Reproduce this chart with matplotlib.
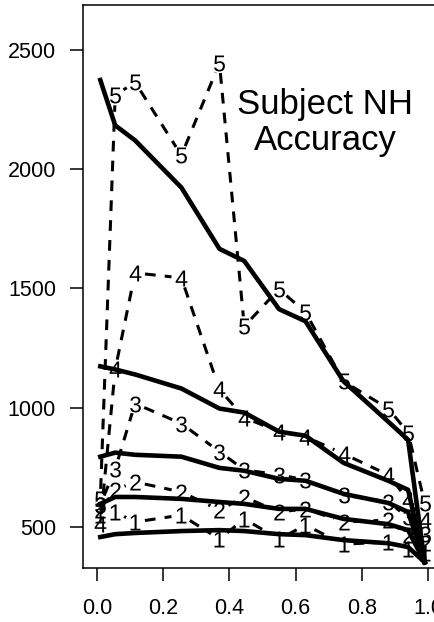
import matplotlib
matplotlib.use('Agg')
import matplotlib.pyplot as plt
import numpy as np

plt.rcParams['font.family'] = 'Liberation Sans'
plt.rcParams['mathtext.fontset'] = 'custom'
plt.rcParams['mathtext.rm'] = 'Liberation Sans'
plt.rcParams['mathtext.default'] = 'regular'

# proportion levels
x = [0.01, 0.055, 0.115, 0.255, 0.37, 0.445, 0.55, 0.63, 0.745, 0.88, 0.94, 0.99]

# observed values per condition (dashed, digit markers)
obs1 = [549, 562, 520, 549, 448, 533, 448, 507, 427, 436, 406, 390]
obs2 = [570, 655, 688, 646, 570, 625, 562, 575, 520, 528, 465, 430]
obs3 = [592, 743, 1017, 933, 815, 739, 718, 697, 634, 604, 540, 470]
obs4 = [512, 1160, 1565, 1544, 1076, 958, 899, 878, 806, 718, 613, 530]
obs5 = [617, 2310, 2365, 2058, 2445, 1341, 1497, 1400, 1110, 996, 895, 600]

# fitted values per condition (solid)
fit1 = [457, 469, 474, 482, 486, 482, 469, 465, 444, 431, 415, 351]
fit2 = [596, 625, 625, 617, 604, 596, 575, 575, 533, 511, 486, 351]
fit3 = [794, 811, 802, 794, 747, 735, 701, 693, 638, 600, 562, 351]
fit4 = [1173, 1160, 1139, 1080, 996, 979, 899, 882, 768, 693, 655, 351]
fit5 = [2374, 2184, 2121, 1923, 1666, 1615, 1413, 1362, 1110, 941, 865, 351]

observed = [obs1, obs2, obs3, obs4, obs5]
fitted = [fit1, fit2, fit3, fit4, fit5]

fig = plt.figure(figsize=(4.35, 6.22), dpi=100)
ax = fig.add_axes([0.1908, 0.0868, 0.8234, 0.9052])
ax.set_xlim(-0.0423, 1.04)
ax.set_ylim(327, 2689)

# type="b" style: segments stop short of each point
gap = 10.0
tr = ax.transData
inv = tr.inverted()
for k, ys in enumerate(observed):
    pts = tr.transform(np.column_stack([x, ys]))
    for p, q in zip(pts[:-1], pts[1:]):
        d = q - p
        L = np.hypot(*d)
        if L <= 2 * gap:
            continue
        u = d / L
        seg = inv.transform(np.array([p + u * gap, q - u * gap]))
        ax.plot(seg[:, 0], seg[:, 1], color='black', lw=2.2,
                linestyle=(0, (3.5, 3)), dash_capstyle='butt', zorder=2)
    ax.plot(x, ys, linestyle='none', marker='$%d$' % (k + 1), ms=11.5,
            mew=0, color='black', zorder=3)

for ys in fitted:
    ax.plot(x, ys, color='black', lw=3.3, solid_joinstyle='round', zorder=4)

ax.text(0.69, 2195, 'Subject NH\nAccuracy', ha='center', va='center',
        fontsize=25, linespacing=1.12)

ax.set_xticks([0.0, 0.2, 0.4, 0.6, 0.8, 1.0])
ax.set_xticklabels(['0.0', '0.2', '0.4', '0.6', '0.8', '1.0'])
ax.set_yticks([500, 1000, 1500, 2000, 2500])
ax.tick_params(axis='both', direction='out', length=9.5, width=1.1,
               labelsize=15.5)
ax.tick_params(axis='x', pad=12)
ax.tick_params(axis='y', pad=10)
for s in ax.spines.values():
    s.set_linewidth(1.1)

fig.savefig('out.png', dpi=100)
